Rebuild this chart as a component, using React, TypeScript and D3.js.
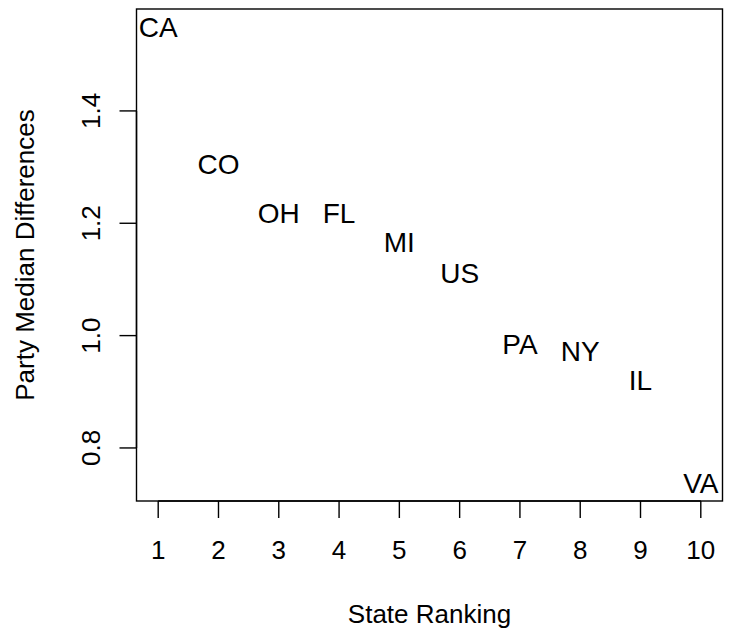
import React from "react";
import * as d3 from "d3";

// State ranking (x) vs. party median difference (y), labelled by state code
const states = ["CA", "CO", "OH", "FL", "MI", "US", "PA", "NY", "IL", "VA"];
const ranking = [1, 2, 3, 4, 5, 6, 7, 8, 9, 10];
const medianDiff = [1.549, 1.305, 1.219, 1.218, 1.166, 1.112, 0.985, 0.972, 0.921, 0.738];
const xTicks = [1, 2, 3, 4, 5, 6, 7, 8, 9, 10];
const yTicks = [0.8, 1.0, 1.2, 1.4];

const W = 731;
const H = 633;
const plot = { left: 136.5, right: 722.5, top: 9, bottom: 501 };
const FONT = "Liberation Sans, Arial, Helvetica, sans-serif";

// R-style 4% padding around the data range
function padded(vals: number[]): [number, number] {
  const [lo, hi] = d3.extent(vals) as [number, number];
  const pad = (hi - lo) * 0.04;
  return [lo - pad, hi + pad];
}

export default function App() {
  const x = d3.scaleLinear().domain(padded(ranking)).range([plot.left, plot.right]);
  const y = d3.scaleLinear().domain(padded(medianDiff)).range([plot.bottom, plot.top]);
  const tickLen = 17;
  const axisFont = 26;
  const labelFont = 28;

  return (
    <svg
      width={W}
      height={H}
      style={{ position: "absolute", left: 0, top: 0, background: "#fff" }}
      fontFamily={FONT}
    >
      <defs>
        <clipPath id="plotClip">
          <rect x={plot.left} y={plot.top} width={plot.right - plot.left} height={plot.bottom - plot.top} />
        </clipPath>
      </defs>

      {/* point labels */}
      <g clipPath="url(#plotClip)">
        {states.map((s, i) => (
          <text
            key={s}
            x={x(ranking[i])}
            y={y(medianDiff[i]) + labelFont * 0.716 / 2}
            textAnchor="middle"
            fontSize={labelFont}
            fill="#000"
          >
            {s}
          </text>
        ))}
      </g>

      {/* plot frame */}
      <rect
        x={plot.left}
        y={plot.top}
        width={plot.right - plot.left}
        height={plot.bottom - plot.top}
        fill="none"
        stroke="#000"
        strokeWidth={1.4}
      />

      {/* x axis */}
      <line x1={x(xTicks[0])} x2={x(xTicks[xTicks.length - 1])} y1={plot.bottom} y2={plot.bottom} stroke="#000" strokeWidth={1.4} />
      {xTicks.map((t) => (
        <g key={t}>
          <line x1={x(t)} x2={x(t)} y1={plot.bottom} y2={plot.bottom + tickLen} stroke="#000" strokeWidth={1.4} />
          <text x={x(t)} y={559} textAnchor="middle" fontSize={axisFont}>
            {t}
          </text>
        </g>
      ))}
      <text x={(plot.left + plot.right) / 2} y={623} textAnchor="middle" fontSize={axisFont}>
        State Ranking
      </text>

      {/* y axis */}
      <line x1={plot.left} x2={plot.left} y1={y(yTicks[0])} y2={y(yTicks[yTicks.length - 1])} stroke="#000" strokeWidth={1.4} />
      {yTicks.map((t) => (
        <g key={t}>
          <line x1={plot.left - tickLen} x2={plot.left} y1={y(t)} y2={y(t)} stroke="#000" strokeWidth={1.4} />
          <text
            transform={`translate(100,${y(t)}) rotate(-90)`}
            textAnchor="middle"
            fontSize={axisFont}
          >
            {d3.format(".1f")(t)}
          </text>
        </g>
      ))}
      <text
        transform={`translate(33.5,${(plot.top + plot.bottom) / 2}) rotate(-90)`}
        textAnchor="middle"
        fontSize={axisFont}
      >
        Party Median Differences
      </text>
    </svg>
  );
}
